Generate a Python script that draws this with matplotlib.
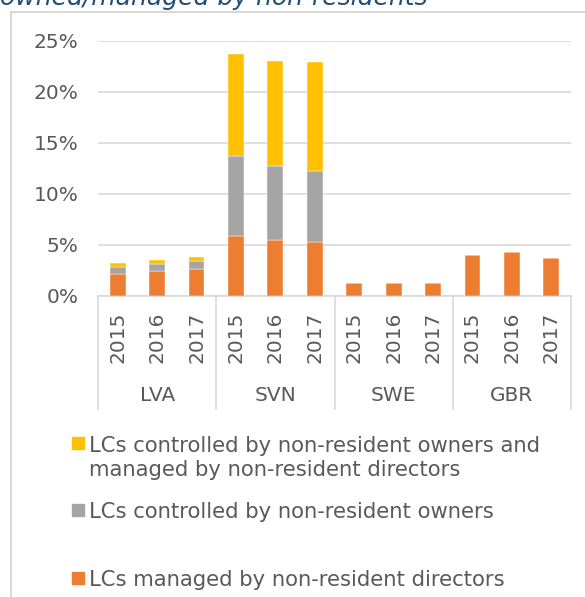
import matplotlib.pyplot as plt
from matplotlib.patches import Rectangle
from matplotlib.lines import Line2D

# data (share of LCs, %)
countries = ["LVA", "SVN", "SWE", "GBR"]
years = ["2015", "2016", "2017"]
managed = [2.1, 2.4, 2.6, 5.9, 5.5, 5.3, 1.25, 1.25, 1.25, 4.0, 4.25, 3.7]
controlled = [0.7, 0.7, 0.8, 7.8, 7.2, 6.9, 0, 0, 0, 0, 0, 0]
both = [0.4, 0.4, 0.4, 10.0, 10.3, 10.7, 0, 0, 0, 0, 0, 0]
legend_labels = [["LCs controlled by non-resident owners and",
                  "managed by non-resident directors"],
                 ["LCs controlled by non-resident owners"],
                 ["LCs managed by non-resident directors"]]

c_orange = "#ED7D31"
c_gray = "#A5A5A5"
c_yellow = "#FFC000"
txt = "#595959"
W, H = 585, 597

fig = plt.figure(figsize=(W / 100, H / 100), dpi=100)
ax = fig.add_axes([98 / W, 1 - 295.7 / H, (571 - 98) / W, (295.7 - 40.7) / H])

x = [i + 0.5 for i in range(len(managed))]
bottom2 = managed
bottom3 = [m + c for m, c in zip(managed, controlled)]
ax.bar(x, managed, width=0.4, color=c_orange, edgecolor="white", linewidth=0.3, zorder=3)
ax.bar(x, controlled, width=0.4, bottom=bottom2, color=c_gray, edgecolor="white", linewidth=0.3, zorder=3)
ax.bar(x, both, width=0.4, bottom=bottom3, color=c_yellow, edgecolor="white", linewidth=0.3, zorder=3)

ax.set_xlim(0, len(managed))
ax.set_ylim(0, 25)
ax.set_yticks(range(0, 26, 5))
ax.set_yticklabels([f"{v}%" for v in range(0, 26, 5)], color=txt, fontsize=14.5)
ax.tick_params(axis="y", length=0, pad=14)
ax.set_xticks([])
ax.grid(axis="y", color="#D9D9D9", linewidth=1.2, zorder=0)
for s in ["top", "right", "left"]:
    ax.spines[s].set_visible(False)
ax.spines["bottom"].set_color("#D9D9D9")
ax.spines["bottom"].set_linewidth(1.2)

# year labels and group labels under the axis
for i, xi in enumerate(x):
    ax.text(xi, -1.6, years[i % 3], rotation=90, ha="center", va="top",
            color=txt, fontsize=14.5, clip_on=False)
for g, name in enumerate(countries):
    ax.text(g * 3 + 1.5, -9.8, name, ha="center", va="center",
            color=txt, fontsize=14.5, clip_on=False)
for g in range(len(countries) + 1):
    ax.add_line(Line2D([g * 3, g * 3], [0, -11.1], color="#D9D9D9",
                       linewidth=1.2, clip_on=False))

# chart frame
fig.add_artist(Line2D([10.5 / W, 10.5 / W], [0, 1 - 12 / H], color="#D9D9D9",
                      linewidth=1.5, transform=fig.transFigure))
fig.add_artist(Line2D([10.5 / W, 1], [1 - 12 / H, 1 - 12 / H], color="#D9D9D9",
                      linewidth=1.5, transform=fig.transFigure))

# title, cut by the top edge
fig.text(0, 1 - 5.5 / H, "owned/managed by non-residents", style="italic",
         color="#1F4E79", fontsize=18, ha="left", va="baseline")

# legend
square_y = [443, 509.5, 578]
baselines = [[452, 476], [518], [586]]
for col, lines, sy, bl in zip([c_yellow, c_gray, c_orange], legend_labels,
                              square_y, baselines):
    fig.add_artist(Rectangle((72 / W, 1 - (sy + 6) / H), 12 / W, 12 / H,
                             color=col, transform=fig.transFigure))
    for line, b in zip(lines, bl):
        fig.text(89 / W, 1 - b / H, line, color=txt, fontsize=15.2,
                 ha="left", va="baseline")

fig.savefig("out.png", dpi=100)
